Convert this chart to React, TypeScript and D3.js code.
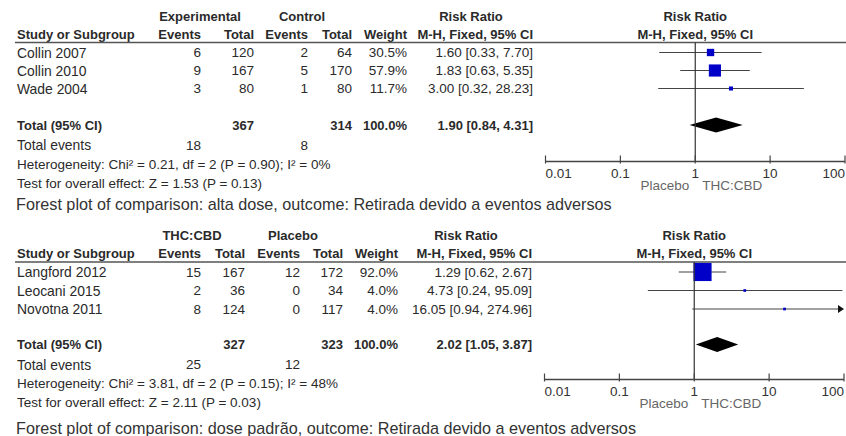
import React from "react";
import * as d3 from "d3";

// ---------- data: panel 1 (alta dose) ----------
const studiesA = ["Collin 2007", "Collin 2010", "Wade 2004"];
const expEventsA = [6, 9, 3];
const expTotalA = [120, 167, 80];
const ctlEventsA = [2, 5, 1];
const ctlTotalA = [64, 170, 80];
const weightA = [30.5, 57.9, 11.7];
const rrA = [1.6, 1.83, 3.0];
const loA = [0.33, 0.63, 0.32];
const hiA = [7.7, 5.35, 28.23];
const totalA = { expTotal: 367, ctlTotal: 314, weight: 100.0, rr: 1.9, lo: 0.84, hi: 4.31, expEvents: 18, ctlEvents: 8 };
const groupsA = ["Experimental", "Control"];
const hetA = "Heterogeneity: Chi\u00b2 = 0.21, df = 2 (P = 0.90); I\u00b2 = 0%";
const testA = "Test for overall effect: Z = 1.53 (P = 0.13)";
const captionA = "Forest plot of comparison: alta dose, outcome: Retirada devido a eventos adversos";

// ---------- data: panel 2 (dose padrão) ----------
const studiesB = ["Langford 2012", "Leocani 2015", "Novotna 2011"];
const expEventsB = [15, 2, 8];
const expTotalB = [167, 36, 124];
const ctlEventsB = [12, 0, 0];
const ctlTotalB = [172, 34, 117];
const weightB = [92.0, 4.0, 4.0];
const rrB = [1.29, 4.73, 16.05];
const loB = [0.62, 0.24, 0.94];
const hiB = [2.67, 95.09, 274.96];
const totalB = { expTotal: 327, ctlTotal: 323, weight: 100.0, rr: 2.02, lo: 1.05, hi: 3.87, expEvents: 25, ctlEvents: 12 };
const groupsB = ["THC:CBD", "Placebo"];
const hetB = "Heterogeneity: Chi\u00b2 = 3.81, df = 2 (P = 0.15); I\u00b2 = 48%";
const testB = "Test for overall effect: Z = 2.11 (P = 0.03)";
const captionB = "Forest plot of comparison: dose padr\u00e3o, outcome: Retirada devido a eventos adversos";

// ---------- axis ----------
const tickValues = [0.01, 0.1, 1, 10, 100];
const tickLabels = ["0.01", "0.1", "1", "10", "100"];
const favoursLeft = "Placebo";
const favoursRight = "THC:CBD";

const FONT = "'Liberation Sans', Arial, sans-serif";
const TXT = "#2a2a2a";

const fmtPct = (w: number) => w.toFixed(1) + "%";
const fmtCI = (r: number, l: number, h: number) => `${r.toFixed(2)} [${l.toFixed(2)}, ${h.toFixed(2)}]`;

const sizeScale = d3.scaleLinear().domain([0, 100]).range([2, 19.5]);

type Layout = {
  lineY: number; grpY: number; hdrY: number; rows: number[]; totalY: number; eventsY: number;
  hetY: number; testY: number; captionY: number; axisY: number; xr: [number, number];
  c: { e1: number; t1: number; e2: number; t2: number; w: number; rr: number };
  g1: number; g2: number; rrHdr: number;
};

const layoutA: Layout = {
  lineY: 42.5, grpY: 16, hdrY: 34, rows: [52.5, 70.5, 88.5], totalY: 125, eventsY: 145,
  hetY: 164, testY: 183, captionY: 204, axisY: 161.5, xr: [545.5, 845],
  c: { e1: 201, t1: 254, e2: 308, t2: 352, w: 407, rr: 533 },
  g1: 200, g2: 302, rrHdr: 471,
};
const layoutB: Layout = {
  lineY: 262, grpY: 235, hdrY: 253, rows: [272, 290.5, 309], totalY: 344.5, eventsY: 364.5,
  hetY: 383.5, testY: 402.5, captionY: 428, axisY: 379.5, xr: [544.5, 844],
  c: { e1: 201, t1: 245, e2: 300, t2: 343, w: 398, rr: 532 },
  g1: 192, g2: 293, rrHdr: 466,
};

type PanelProps = {
  L: Layout; studies: string[]; expEvents: number[]; expTotal: number[]; ctlEvents: number[];
  ctlTotal: number[]; weight: number[]; rr: number[]; lo: number[]; hi: number[];
  total: typeof totalA; groups: string[]; het: string; test: string; caption: string;
};

function T(props: any) {
  const { x, y, children, anchor = "start", bold = false, size = 13.5, fill = TXT } = props;
  return (
    <text x={x} y={y} textAnchor={anchor} dominantBaseline="central" fontFamily={FONT}
      fontSize={size} fontWeight={bold ? "bold" : "normal"} fill={fill}>
      {children}
    </text>
  );
}

function Panel(p: PanelProps) {
  const { L } = p;
  const x = d3.scaleLog().domain([0.01, 100]).range(L.xr);
  const x1 = x(1);
  const diamondH = 7.5;
  const d = p.total;
  const diamond = d3.line()([
    [x(d.lo), L.totalY], [x(d.rr), L.totalY - diamondH], [x(d.hi), L.totalY], [x(d.rr), L.totalY + diamondH],
  ]) + "Z";
  const B = 13;
  const LX = 17;
  return (
    <g>
      {/* group headers */}
      <T x={L.g1} y={L.grpY} anchor="middle" bold size={B}>{p.groups[0]}</T>
      <T x={L.g2} y={L.grpY} anchor="middle" bold size={B}>{p.groups[1]}</T>
      <T x={L.rrHdr} y={L.grpY} anchor="middle" bold size={B}>Risk Ratio</T>
      <T x={x1} y={L.grpY} anchor="middle" bold size={B}>Risk Ratio</T>
      {/* column headers */}
      <T x={LX} y={L.hdrY} bold size={B}>Study or Subgroup</T>
      <T x={L.c.e1} y={L.hdrY} anchor="end" bold size={B}>Events</T>
      <T x={L.c.t1} y={L.hdrY} anchor="end" bold size={B}>Total</T>
      <T x={L.c.e2} y={L.hdrY} anchor="end" bold size={B}>Events</T>
      <T x={L.c.t2} y={L.hdrY} anchor="end" bold size={B}>Total</T>
      <T x={L.c.w} y={L.hdrY} anchor="end" bold size={B}>Weight</T>
      <T x={L.c.rr} y={L.hdrY} anchor="end" bold size={B}>M-H, Fixed, 95% CI</T>
      <T x={x1} y={L.hdrY} anchor="middle" bold size={B}>M-H, Fixed, 95% CI</T>
      <line x1={15} x2={846} y1={L.lineY} y2={L.lineY} stroke="#555" strokeWidth={1.6} />
      {/* study rows */}
      {p.studies.map((s, i) => {
        const y = L.rows[i];
        const sz = sizeScale(p.weight[i]);
        const xl = x(Math.max(p.lo[i], 0.01));
        const over = p.hi[i] > 100;
        const xh = x(Math.min(p.hi[i], 100));
        return (
          <g key={s}>
            <T x={LX} y={y} size={13.9}>{s}</T>
            <T x={L.c.e1} y={y} anchor="end">{p.expEvents[i]}</T>
            <T x={L.c.t1} y={y} anchor="end">{p.expTotal[i]}</T>
            <T x={L.c.e2} y={y} anchor="end">{p.ctlEvents[i]}</T>
            <T x={L.c.t2} y={y} anchor="end">{p.ctlTotal[i]}</T>
            <T x={L.c.w} y={y} anchor="end">{fmtPct(p.weight[i])}</T>
            <T x={L.c.rr} y={y} anchor="end">{fmtCI(p.rr[i], p.lo[i], p.hi[i])}</T>
            <line x1={xl} x2={over ? xh - 4 : xh} y1={y} y2={y} stroke="#444" strokeWidth={1.2} />
            {over && <path d={`M${xh - 6},${y - 4}L${xh},${y}L${xh - 6},${y + 4}Z`} fill="#111" />}
            <rect x={x(p.rr[i]) - sz / 2} y={y - sz / 2} width={sz} height={sz} fill="#0000c8" />
          </g>
        );
      })}
      {/* totals */}
      <T x={LX} y={L.totalY} bold size={B}>Total (95% CI)</T>
      <T x={L.c.t1} y={L.totalY} anchor="end" bold size={B}>{d.expTotal}</T>
      <T x={L.c.t2} y={L.totalY} anchor="end" bold size={B}>{d.ctlTotal}</T>
      <T x={L.c.w} y={L.totalY} anchor="end" bold size={B}>{fmtPct(d.weight)}</T>
      <T x={L.c.rr} y={L.totalY} anchor="end" bold size={B}>{fmtCI(d.rr, d.lo, d.hi)}</T>
      <path d={diamond} fill="#000" />
      <T x={LX} y={L.eventsY} size={13.9}>Total events</T>
      <T x={L.c.e1} y={L.eventsY} anchor="end">{d.expEvents}</T>
      <T x={L.c.e2} y={L.eventsY} anchor="end">{d.ctlEvents}</T>
      <T x={LX} y={L.hetY}>{p.het}</T>
      <T x={LX} y={L.testY}>{p.test}</T>
      <T x={16} y={L.captionY} size={16.2} fill="#333">{p.caption}</T>
      {/* plot */}
      <line x1={x1} x2={x1} y1={L.lineY} y2={L.axisY} stroke="#333" strokeWidth={1.2} />
      <line x1={L.xr[0]} x2={L.xr[1]} y1={L.axisY} y2={L.axisY} stroke="#444" strokeWidth={1.4} />
      {tickValues.map((t, i) => (
        <g key={t}>
          <line x1={x(t)} x2={x(t)} y1={L.axisY - 6} y2={L.axisY + 2} stroke="#444" strokeWidth={1.2} />
          <T x={x(t)} y={L.axisY + 12} anchor={i === 0 ? "start" : i === tickValues.length - 1 ? "end" : "middle"} fill="#333">
            {tickLabels[i]}
          </T>
        </g>
      ))}
      <T x={x1 - 6} y={L.axisY + 24} anchor="end" fill="#666">{favoursLeft}</T>
      <T x={x1 + 7} y={L.axisY + 24} anchor="start" fill="#666">{favoursRight}</T>
    </g>
  );
}

export default function App() {
  return (
    <svg width={846} height={436} style={{ position: "absolute", left: 0, top: 0, background: "#fff" }}>
      <rect width={846} height={436} fill="#fff" />
      <Panel L={layoutA} studies={studiesA} expEvents={expEventsA} expTotal={expTotalA} ctlEvents={ctlEventsA}
        ctlTotal={ctlTotalA} weight={weightA} rr={rrA} lo={loA} hi={hiA} total={totalA} groups={groupsA}
        het={hetA} test={testA} caption={captionA} />
      <Panel L={layoutB} studies={studiesB} expEvents={expEventsB} expTotal={expTotalB} ctlEvents={ctlEventsB}
        ctlTotal={ctlTotalB} weight={weightB} rr={rrB} lo={loB} hi={hiB} total={totalB} groups={groupsB}
        het={hetB} test={testB} caption={captionB} />
    </svg>
  );
}
